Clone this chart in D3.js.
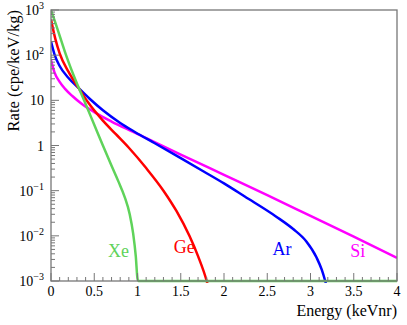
<!DOCTYPE html>
<html>
<head>
<meta charset="utf-8">
<script src="https://cdn.jsdelivr.net/npm/d3@7"></script>
<style>
  body { margin: 0; background: #fff; }
  text { font-family: "Liberation Serif", "DejaVu Serif", serif; }
</style>
</head>
<body>
<div id="chart"></div>
<script>
// energies (keVnr) and log10 of rates (cpe/keV/kg)
const energyXe = [0, 0.05, 0.1, 0.16, 0.26, 0.4, 0.5, 0.6, 0.7, 0.78, 0.85, 0.91, 0.95, 0.98, 1.0, 1.01, 4];
const logRateXe = [3.0, 2.72, 2.43, 2.08, 1.56, 0.92, 0.46, 0.0, -0.45, -0.8, -1.13, -1.52, -1.95, -2.45, -2.95, -3.0, -3.0];

const energyGe = [0, 0.05, 0.1, 0.2, 0.32, 0.43, 0.6, 0.75, 0.9, 1.1, 1.3, 1.45, 1.6, 1.7, 1.8, 1.84];
const logRateGe = [2.79, 2.36, 2.04, 1.64, 1.27, 0.95, 0.55, 0.25, -0.05, -0.5, -1.0, -1.45, -2.0, -2.45, -3.0, -3.3];

const energyAr = [0, 0.04, 0.1, 0.2, 0.32, 0.45, 0.6, 0.8, 0.97, 1.2, 1.5, 1.76, 2.0, 2.24, 2.6, 2.8, 2.95, 3.07, 3.13, 3.17, 3.21];
const logRateAr = [2.3, 2.02, 1.76, 1.5, 1.27, 1.03, 0.78, 0.5, 0.3, 0.05, -0.28, -0.57, -0.84, -1.13, -1.57, -1.85, -2.12, -2.48, -2.75, -3.0, -3.3];

const energySi = [0, 0.04, 0.1, 0.16, 0.25, 0.35, 0.5, 0.7, 0.95, 1.5, 2.0, 2.5, 3.0, 3.5, 4.0];
const logRateSi = [1.89, 1.62, 1.41, 1.26, 1.09, 0.93, 0.74, 0.53, 0.30, -0.20, -0.65, -1.10, -1.56, -2.02, -2.49];

const xTicks = [0, 0.5, 1, 1.5, 2, 2.5, 3, 3.5, 4];
const yTicks = [1e-3, 1e-2, 1e-1, 1, 10, 1e2, 1e3];
const yTickLabels = [["10", "-3"], ["10", "-2"], ["10", "-1"], ["1", ""], ["10", ""], ["10", "2"], ["10", "3"]];

const series = [
  {name: "Si", e: energySi, lr: logRateSi, color: "#ff00ff", lx: 3.46, ly: 0.0034},
  {name: "Ar", e: energyAr, lr: logRateAr, color: "#0000ff", lx: 2.56, ly: 0.0038},
  {name: "Ge", e: energyGe, lr: logRateGe, color: "#ff0000", lx: 1.42, ly: 0.0042},
  {name: "Xe", e: energyXe, lr: logRateXe, color: "#5fd35a", lx: 0.66, ly: 0.0034}
];

const width = 407, height = 325;
const mLeft = 51, mRight = 397, mTop = 10, mBottom = 281;

const svg = d3.select("#chart").append("svg")
  .attr("width", width).attr("height", height);

const x = d3.scaleLinear().domain([0, 4]).range([mLeft, mRight]);
const y = d3.scaleLog().domain([1e-3, 1e3]).range([mBottom, mTop]);

// curves
svg.append("clipPath").attr("id", "frame")
  .append("rect").attr("x", mLeft).attr("y", mTop - 1)
  .attr("width", mRight - mLeft).attr("height", mBottom - mTop + 3);

const line = d3.line()
  .x(d => x(d[0]))
  .y(d => y(d[1]))
  .curve(d3.curveMonotoneX);

const g = svg.append("g").attr("clip-path", "url(#frame)");

// frame
svg.append("rect")
  .attr("x", mLeft).attr("y", mTop)
  .attr("width", mRight - mLeft).attr("height", mBottom - mTop)
  .attr("fill", "none").attr("stroke", "#777").attr("stroke-width", 1.3);

// x ticks (inside)
const xMinor = d3.range(0, 40.5, 1).map(v => v / 10);
svg.append("g").selectAll("line").data(xMinor).join("line")
  .attr("x1", d => x(d)).attr("x2", d => x(d))
  .attr("y1", mBottom).attr("y2", (d, i) => mBottom - (i % 5 === 0 ? 8 : 4))
  .attr("stroke", "#777").attr("stroke-width", 1);

svg.append("g").selectAll("text").data(xTicks).join("text")
  .attr("x", d => x(d)).attr("y", 296)
  .attr("text-anchor", "middle")
  .attr("font-size", 14)
  .text(d => d3.format("~g")(d));

// y ticks (inside)
const yMinor = [];
for (let p = -3; p < 3; p++) for (let m = 1; m < 10; m++) yMinor.push(m * Math.pow(10, p));
yMinor.push(1000);
svg.append("g").selectAll("line").data(yMinor).join("line")
  .attr("x1", mLeft).attr("x2", d => mLeft + (Math.abs(Math.log10(d) - Math.round(Math.log10(d))) < 1e-9 ? 8 : 4))
  .attr("y1", d => y(d)).attr("y2", d => y(d))
  .attr("stroke", "#777").attr("stroke-width", 1);

series.forEach(s => {
  g.append("path")
    .attr("d", line(s.e.map((e, i) => [e, Math.pow(10, s.lr[i])])))
    .attr("fill", "none")
    .attr("stroke", s.color)
    .attr("stroke-width", 2.5);
});

const yl = svg.append("g").selectAll("text").data(yTicks).join("text")
  .attr("x", 44).attr("y", d => y(d) + 5)
  .attr("text-anchor", "end")
  .attr("font-size", 14);
yl.append("tspan").text((d, i) => yTickLabels[i][0]);
yl.append("tspan").attr("font-size", 10).attr("dy", -6)
  .text((d, i) => yTickLabels[i][1].replace("-", "\u2212"));

// axis titles
svg.append("text")
  .attr("x", mRight).attr("y", 316)
  .attr("text-anchor", "end").attr("font-size", 16)
  .text("Energy (keVnr)");

svg.append("text")
  .attr("transform", `translate(19, ${mTop}) rotate(-90)`)
  .attr("text-anchor", "end").attr("font-size", 16.5)
  .text("Rate (cpe/keV/kg)");

// curve labels
svg.append("g").selectAll("text").data(series).join("text")
  .attr("x", d => x(d.lx)).attr("y", d => y(d.ly))
  .attr("font-size", 18)
  .attr("fill", d => d.color)
  .text(d => d.name);
</script>
</body>
</html>
